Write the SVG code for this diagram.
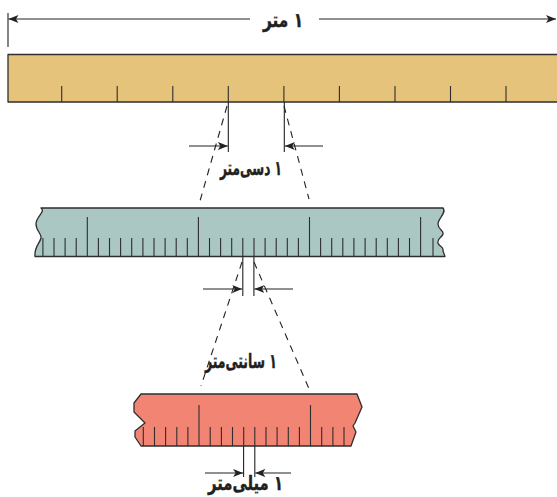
<svg xmlns="http://www.w3.org/2000/svg" width="557" height="497" viewBox="0 0 557 497">
<style>
.edge{stroke:#2e2e2e;stroke-width:1.3;stroke-linejoin:round}
.tick{stroke:#2e2e2e;stroke-width:1.1;fill:none}
.dim{stroke:#222;stroke-width:1.1;fill:none}
.dash{stroke:#222;stroke-width:1.1;fill:none;stroke-dasharray:7,6}
.lbl{font-family:"DejaVu Sans","Noto Sans",sans-serif;font-weight:bold;font-size:20px;fill:#231f20;stroke:#231f20;stroke-width:0.4;text-anchor:middle;direction:rtl;unicode-bidi:embed}
</style>
<defs>
<marker id="ah" viewBox="0 0 10 8" refX="10" refY="4" markerWidth="10" markerHeight="8" markerUnits="userSpaceOnUse" orient="auto">
<path d="M0,0 L10,4 L0,8 L2.5,4 z" fill="#222"/>
</marker>
</defs>
<rect width="557" height="497" fill="#fff"/>

<g id="ruler-meter">
<rect x="8" y="54.5" width="560" height="47.5" fill="#e5c37b" class="edge"/>
<path class="tick" d="M61.7,86V102M117.2,86V102M172.8,86V102M228.3,86V102M283.9,86V102M339.4,86V102M395,86V102M450.5,86V102M506,86V102"/>
</g>

<g id="ruler-decimeter">
<path d="M41,208 L443,208 C447,213 438,218 438,224 C438,230 444,230 443,234 C442,238 437,238 438,243 C439,247 444,246 443,251 L445,256.5 L35,256.5 C34,247 40,243 41,238 C42,234 36,231 36,224 C36,216 46,212 41,208 z" fill="#aac7c3" class="edge"/>
<path class="tick" d="M42.9,238V256M54,238V256M65.1,238V256M76.2,238V256M98.4,238V256M109.5,238V256M120.6,238V256M131.7,238V256M142.9,238V256M154,238V256M165.1,238V256M176.2,238V256M187.3,238V256M209.5,238V256M220.6,238V256M231.7,238V256M242.8,238V256M254,238V256M265.1,238V256M276.2,238V256M287.3,238V256M298.4,238V256M320.6,238V256M331.7,238V256M342.8,238V256M353.9,238V256M365.1,238V256M376.2,238V256M387.3,238V256M398.4,238V256M409.5,238V256M433,238V256"/>
<path class="tick" d="M87.3,217V256M198.4,217V256M309.5,217V256M420.6,217V256"/>
</g>

<g id="ruler-centimeter">
<path d="M141,394 L357,394 L362,407 L355,423 L353,426 L356,432 L351,446 L141,446 L135,437 L135,431 L145,423 L134,412 L134,403 z" fill="#f28474" class="edge"/>
<path class="tick" d="M143.3,427V446M154.5,427V446M165.6,427V446M176.8,427V446M187.9,427V446M210.2,427V446M221.4,427V446M232.5,427V446M243.7,427V446M254.8,427V446M266,427V446M277.1,427V446M288.3,427V446M299.4,427V446M321.7,427V446M332.9,427V446M344,427V446"/>
<path class="tick" d="M199,405V446M310.5,405V446"/>
</g>

<g id="connectors">
<path class="dim" d="M8,13V47"/>
<path class="dim" d="M250,19H8.5" marker-end="url(#ah)"/>
<path class="dim" d="M319,19H556" marker-end="url(#ah)"/>

<path class="dim" d="M228.3,102V152M284.3,102V152"/>
<path class="dim" d="M189,146H227.8" marker-end="url(#ah)"/>
<path class="dim" d="M323,146H284.8" marker-end="url(#ah)"/>
<path class="dash" d="M227,106L200,201"/>
<path class="dash" d="M284,106L309,199"/>

<path class="dim" d="M242.8,257V296M253.9,257V296"/>
<path class="dim" d="M203,289H242.3" marker-end="url(#ah)"/>
<path class="dim" d="M293,289H254.4" marker-end="url(#ah)"/>
<path class="dash" d="M242,262L201,386"/>
<path class="dash" d="M254,262L310,391"/>

<path class="dim" d="M243.6,446V477M254.8,446V477"/>
<path class="dim" d="M205,473H243.1" marker-end="url(#ah)"/>
<path class="dim" d="M291,473H255.3" marker-end="url(#ah)"/>
</g>

<g id="labels">
<text class="lbl" x="283" y="27" textLength="40" lengthAdjust="spacingAndGlyphs">۱ متر</text>
<text class="lbl" x="251" y="175" textLength="62" lengthAdjust="spacingAndGlyphs">۱ دسی‌متر</text>
<text class="lbl" x="241" y="368" textLength="72" lengthAdjust="spacingAndGlyphs">۱ سانتی‌متر</text>
<text class="lbl" x="245.5" y="490" textLength="75" lengthAdjust="spacingAndGlyphs">۱ میلی‌متر</text>
</g>
</svg>
